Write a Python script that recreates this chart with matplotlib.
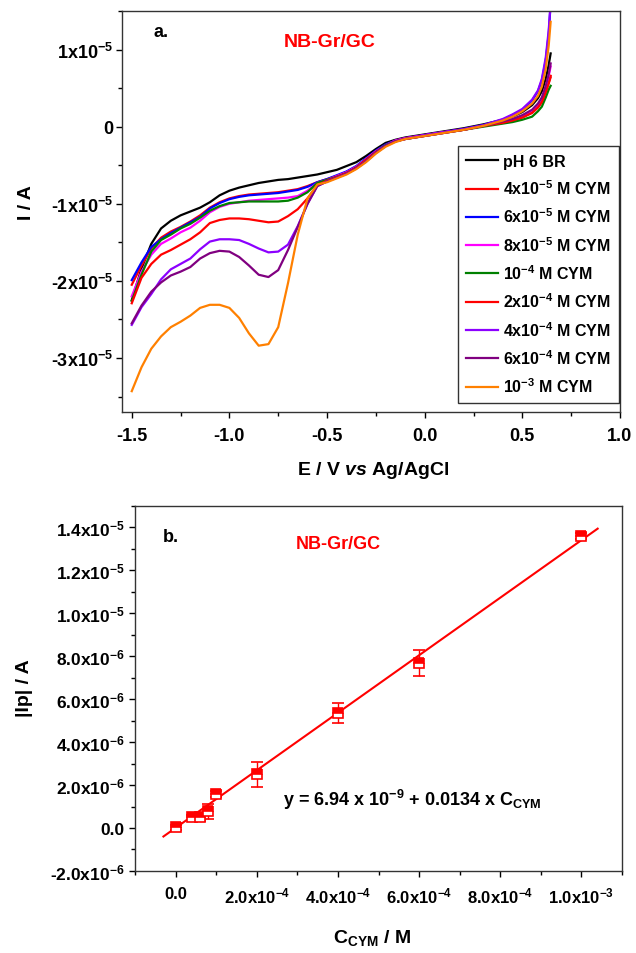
import numpy as np
import matplotlib
matplotlib.use("Agg")
import matplotlib.pyplot as plt
from matplotlib.ticker import MultipleLocator

plt.rcParams['font.family'] = ['Liberation Sans', 'DejaVu Sans']
plt.rcParams['font.weight'] = 'bold'
plt.rcParams['mathtext.fontset'] = 'custom'
plt.rcParams['mathtext.default'] = 'rm'
plt.rcParams['mathtext.rm'] = 'Liberation Sans:bold'
plt.rcParams['mathtext.bf'] = 'Liberation Sans:bold'
plt.rcParams['mathtext.it'] = 'Liberation Sans:italic:bold'

# ---- panel a: linear sweeps (E in V, I in 1e-5 A) ----
E = [-1.50, -1.45, -1.40, -1.35, -1.30, -1.25, -1.20, -1.15, -1.10, -1.05, -1.00,
     -0.95, -0.90, -0.85, -0.80, -0.75, -0.70, -0.65, -0.60, -0.55, -0.50,
     -0.45, -0.40, -0.35, -0.30, -0.25, -0.20, -0.15, -0.10,
     0.00, 0.10, 0.20, 0.30, 0.40,
     0.45, 0.50, 0.55, 0.58, 0.60, 0.62, 0.635, 0.645]

i_blank = [-2.25, -1.84, -1.52, -1.32, -1.22, -1.15, -1.10, -1.05, -0.98, -0.89, -0.83,
           -0.79, -0.76, -0.73, -0.71, -0.69, -0.68, -0.66, -0.64, -0.62, -0.59,
           -0.56, -0.51, -0.46, -0.38, -0.29, -0.21, -0.17, -0.14,
           -0.10, -0.06, -0.02, 0.03, 0.09,
           0.13, 0.19, 0.28, 0.37, 0.46, 0.62, 0.80, 0.95]
i_4e5 = [-2.05, -1.80, -1.58, -1.44, -1.36, -1.30, -1.23, -1.15, -1.05, -0.98, -0.93,
         -0.90, -0.88, -0.87, -0.86, -0.85, -0.83, -0.81, -0.77, -0.72, -0.68,
         -0.64, -0.59, -0.52, -0.42, -0.32, -0.24, -0.18, -0.15,
         -0.11, -0.07, -0.04, 0.01, 0.06,
         0.08, 0.12, 0.18, 0.25, 0.32, 0.45, 0.57, 0.66]
i_6e5 = [-1.99, -1.76, -1.56, -1.46, -1.38, -1.31, -1.24, -1.17, -1.06, -0.99, -0.94,
         -0.91, -0.89, -0.88, -0.87, -0.86, -0.84, -0.82, -0.78, -0.72, -0.68,
         -0.63, -0.58, -0.51, -0.41, -0.31, -0.23, -0.18, -0.15,
         -0.11, -0.07, -0.03, 0.02, 0.09,
         0.15, 0.22, 0.34, 0.46, 0.60, 0.86, 1.20, 1.60]
i_8e5 = [-2.20, -1.88, -1.66, -1.52, -1.45, -1.37, -1.31, -1.22, -1.11, -1.04, -1.00,
         -0.98, -0.96, -0.95, -0.94, -0.93, -0.92, -0.90, -0.83, -0.73, -0.69,
         -0.64, -0.59, -0.52, -0.42, -0.32, -0.24, -0.18, -0.15,
         -0.11, -0.07, -0.04, 0.01, 0.06,
         0.09, 0.13, 0.20, 0.28, 0.36, 0.52, 0.66, 0.78]
i_1e4 = [-2.26, -1.92, -1.62, -1.47, -1.40, -1.32, -1.26, -1.18, -1.09, -1.03, -0.99,
         -0.98, -0.97, -0.97, -0.97, -0.97, -0.96, -0.92, -0.85, -0.73, -0.69,
         -0.65, -0.60, -0.53, -0.43, -0.33, -0.24, -0.19, -0.16,
         -0.12, -0.08, -0.04, 0.00, 0.04,
         0.06, 0.09, 0.13, 0.20, 0.26, 0.38, 0.48, 0.53]
i_2e4 = [-2.29, -1.96, -1.78, -1.66, -1.60, -1.53, -1.46, -1.37, -1.25, -1.21, -1.19,
         -1.19, -1.20, -1.22, -1.24, -1.23, -1.16, -1.07, -0.93, -0.76, -0.70,
         -0.65, -0.60, -0.53, -0.43, -0.33, -0.25, -0.19, -0.16,
         -0.12, -0.08, -0.04, 0.01, 0.05,
         0.08, 0.12, 0.18, 0.25, 0.32, 0.45, 0.56, 0.64]
i_4e4 = [-2.57, -2.34, -2.17, -1.98, -1.85, -1.78, -1.71, -1.59, -1.49, -1.46, -1.46,
         -1.47, -1.52, -1.58, -1.63, -1.62, -1.53, -1.29, -1.00, -0.77, -0.71,
         -0.66, -0.61, -0.54, -0.45, -0.34, -0.25, -0.19, -0.16,
         -0.11, -0.07, -0.03, 0.02, 0.10,
         0.16, 0.23, 0.35, 0.47, 0.62, 0.90, 1.25, 1.60]
i_6e4 = [-2.55, -2.32, -2.14, -2.02, -1.93, -1.88, -1.82, -1.71, -1.64, -1.61, -1.62,
         -1.69, -1.80, -1.92, -1.95, -1.86, -1.60, -1.30, -1.00, -0.77, -0.71,
         -0.66, -0.61, -0.54, -0.45, -0.34, -0.25, -0.19, -0.16,
         -0.12, -0.08, -0.04, 0.01, 0.07,
         0.10, 0.15, 0.22, 0.30, 0.38, 0.53, 0.68, 0.82]
i_1e3 = [-3.43, -3.12, -2.88, -2.72, -2.60, -2.53, -2.45, -2.35, -2.31, -2.31, -2.35,
         -2.48, -2.68, -2.84, -2.82, -2.60, -2.03, -1.40, -0.93, -0.75, -0.72,
         -0.67, -0.62, -0.55, -0.46, -0.35, -0.26, -0.20, -0.16,
         -0.12, -0.08, -0.04, 0.01, 0.08,
         0.13, 0.20, 0.30, 0.40, 0.52, 0.75, 1.05, 1.36]

curves = [i_blank, i_4e5, i_6e5, i_8e5, i_1e4, i_2e4, i_4e4, i_6e4, i_1e3]
labels = ['pH 6 BR', r'4x10$^{-5}$ M CYM', r'6x10$^{-5}$ M CYM', r'8x10$^{-5}$ M CYM',
          r'10$^{-4}$ M CYM', r'2x10$^{-4}$ M CYM', r'4x10$^{-4}$ M CYM',
          r'6x10$^{-4}$ M CYM', r'10$^{-3}$ M CYM']
colors = ['#000000', '#ff0000', '#0000ff', '#ff00ff', '#008000', '#ff0000',
          '#8c00ff', '#800080', '#ff8000']

# ---- panel b: calibration ----
conc = [0, 4e-5, 6e-5, 8e-5, 1e-4, 2e-4, 4e-4, 6e-4, 1e-3]
ip = [0.03e-6, 0.50e-6, 0.52e-6, 0.78e-6, 1.58e-6, 2.51e-6, 5.35e-6, 7.67e-6, 13.59e-6]
ip_err = [0.12e-6, 0.12e-6, 0.18e-6, 0.35e-6, 0.15e-6, 0.58e-6, 0.47e-6, 0.60e-6, 0.15e-6]
intercept = 6.94e-9
slope = 0.0134
fit_range = [-3e-5, 1.04e-3]

fig = plt.figure(figsize=(6.36, 9.54), dpi=100)

# top panel
ax1 = fig.add_axes([0.1918, 0.5671, 0.7830, 0.4203])
for y, lab, c in zip(curves, labels, colors):
    ax1.plot(E, np.array(y) * 1e-5, color=c, lw=1.6, label=lab)
ax1.set_xlim(-1.55, 1.0)
ax1.set_ylim(-3.7e-5, 1.5e-5)
ax1.set_xticks([-1.5, -1.0, -0.5, 0.0, 0.5, 1.0])
ax1.set_xticklabels(['-1.5', '-1.0', '-0.5', '0.0', '0.5', '1.0'])
ax1.set_yticks([1e-5, 0, -1e-5, -2e-5, -3e-5])
ax1.set_yticklabels([r'1x10$^{-5}$', '0', r'-1x10$^{-5}$', r'-2x10$^{-5}$', r'-3x10$^{-5}$'])
ax1.xaxis.set_minor_locator(MultipleLocator(0.25))
ax1.yaxis.set_minor_locator(MultipleLocator(0.5e-5))
ax1.tick_params(which='major', direction='out', length=4.5, width=1, labelsize=13, pad=6)
ax1.tick_params(axis='y', which='major', pad=1.5)
ax1.tick_params(which='minor', direction='out', length=3, width=1)
ax1.set_xlabel(r'E / V $\mathit{vs}$ Ag/AgCl', fontsize=14, fontweight='bold')
ax1.set_ylabel('I / A', fontsize=14, fontweight='bold')
ax1.xaxis.set_label_coords(0.504, -0.117)
ax1.yaxis.set_label_coords(-0.175, 0.524)
ax1.text(-1.39, 1.23e-5, 'a.', fontsize=13, fontweight='bold', va='center')
ax1.text(-0.485, 1.11e-5, 'NB-Gr/GC', fontsize=14, fontweight='bold', color='red',
         ha='center', va='center')
leg = ax1.legend(loc='lower right', bbox_to_anchor=(0.998, 0.022), borderaxespad=0,
                 fontsize=11.5, frameon=True, fancybox=False, handlelength=2.0,
                 handletextpad=0.35, labelspacing=0.6, borderpad=0.5)
leg.get_frame().set_edgecolor('black')
leg.get_frame().set_linewidth(1.0)
for s in ax1.spines.values():
    s.set_linewidth(1.0)
    s.set_color('#333333')

# bottom panel
ax2 = fig.add_axes([0.2123, 0.0860, 0.7657, 0.3826])
fx = np.array(fit_range)
ax2.plot(fx, intercept + slope * fx, color='red', lw=1.5)
ax2.errorbar(conc, ip, yerr=ip_err, fmt='s', color='red', ecolor='red', elinewidth=1,
             capsize=4, capthick=1, markersize=7, markerfacecolor='red',
             markerfacecoloralt='white', fillstyle='top', markeredgecolor='red',
             markeredgewidth=1.2)
ax2.set_xlim(-1e-4, 1.1e-3)
ax2.set_ylim(-2e-6, 1.5e-5)
ax2.set_xticks([0, 2e-4, 4e-4, 6e-4, 8e-4, 1e-3])
ax2.set_xticklabels(['0.0', r'2.0x10$^{-4}$', r'4.0x10$^{-4}$', r'6.0x10$^{-4}$',
                     r'8.0x10$^{-4}$', r'1.0x10$^{-3}$'])
ax2.set_yticks([-2e-6, 0, 2e-6, 4e-6, 6e-6, 8e-6, 1e-5, 1.2e-5, 1.4e-5])
ax2.set_yticklabels([r'-2.0x10$^{-6}$', '0.0', r'2.0x10$^{-6}$', r'4.0x10$^{-6}$',
                     r'6.0x10$^{-6}$', r'8.0x10$^{-6}$', r'1.0x10$^{-5}$',
                     r'1.2x10$^{-5}$', r'1.4x10$^{-5}$'])
ax2.xaxis.set_minor_locator(MultipleLocator(1e-4))
ax2.yaxis.set_minor_locator(MultipleLocator(1e-6))
ax2.tick_params(which='major', direction='out', length=4.5, width=1, labelsize=12.5, pad=3)
ax2.tick_params(axis='x', which='major', labelsize=12, pad=6)
ax2.tick_params(which='minor', direction='out', length=3, width=1)
ax2.set_xlabel(r'C$_{\mathrm{CYM}}$ / M', fontsize=14, fontweight='bold')
ax2.set_ylabel('|Ip| / A', fontsize=14, fontweight='bold')
ax2.xaxis.set_label_coords(0.487, -0.153)
ax2.yaxis.set_label_coords(-0.209, 0.504)
ax2.text(-3.2e-5, 1.36e-5, 'b.', fontsize=13, fontweight='bold', va='center')
ax2.text(4.0e-4, 1.326e-5, 'NB-Gr/GC', fontsize=13, fontweight='bold', color='red',
         ha='center', va='center')
ax2.text(2.64e-4, 1.35e-6, r'y = 6.94 x 10$^{-9}$ + 0.0134 x C$_{\mathrm{CYM}}$',
         fontsize=13, fontweight='bold', va='center')
for s in ax2.spines.values():
    s.set_linewidth(1.0)
    s.set_color('#333333')

plt.savefig('out.png', dpi=100)
